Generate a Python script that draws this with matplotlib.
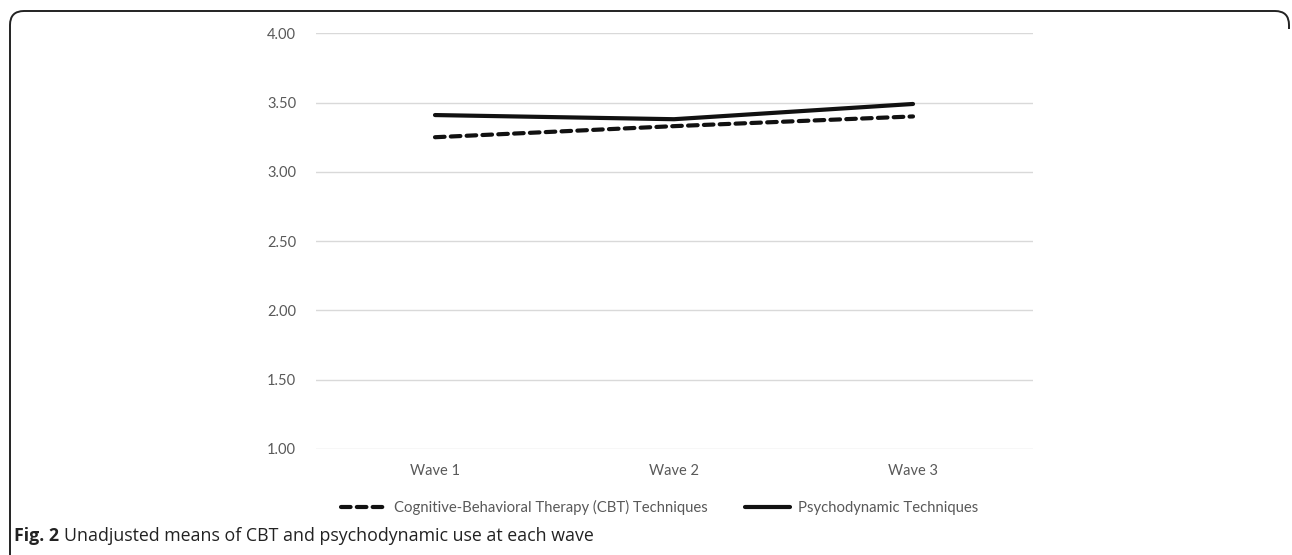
import matplotlib
matplotlib.use("Agg")
import matplotlib.pyplot as plt
from matplotlib.patches import PathPatch
from matplotlib.path import Path

waves = ["Wave 1", "Wave 2", "Wave 3"]
cbt = [3.25, 3.33, 3.40]
psychodynamic = [3.41, 3.38, 3.49]
yticks = [1.00, 1.50, 2.00, 2.50, 3.00, 3.50, 4.00]

W, H = 1292, 555
fig = plt.figure(figsize=(W / 100, H / 100), dpi=100)

# plot area (pixel positions)
left, right, top, bottom = 315.5, 1032.5, 33.3, 449
ax = fig.add_axes([left / W, (H - bottom) / H, (right - left) / W, (bottom - top) / H])

x = range(len(waves))
ax.plot(x, cbt, color="#111111", lw=3.0, ls=(0, (2.3, 1.5)),
        dash_capstyle="round", solid_capstyle="round",
        label="Cognitive-Behavioral Therapy (CBT) Techniques")
ax.plot(x, psychodynamic, color="#111111", lw=3.0, solid_capstyle="round",
        label="Psychodynamic Techniques")

ax.set_xlim(-0.5, 2.5)
ax.set_ylim(1, 4)
ax.set_yticks(yticks)
ax.set_yticklabels(["{:.2f}".format(v) for v in yticks])
ax.set_xticks(list(x))
ax.set_xticklabels(waves)
ax.tick_params(length=0, labelsize=10.5, labelcolor="#595959")
ax.tick_params(axis="y", pad=14)
ax.tick_params(axis="x", pad=11)
for lab in ax.get_xticklabels() + ax.get_yticklabels():
    lab.set_family("Lato")
ax.grid(axis="y", color="#d9d9d9", lw=1)
ax.set_axisbelow(True)
for sp in ax.spines.values():
    sp.set_visible(False)

leg = ax.legend(loc="center", bbox_to_anchor=(0.48, -0.14), ncol=2, frameon=False,
                handlelength=3.0, handletextpad=0.6, columnspacing=2.5,
                prop={"family": "Lato", "size": 10.7})
for t in leg.get_texts():
    t.set_color("#595959")

# frame: top line with rounded corners, left side running down
r = 14
x0, x1, ytop, ybot = 10, 1289, H - 11, 0
verts = [(x0, ybot), (x0, ytop - r), (x0, ytop), (x0 + r, ytop),
         (x1 - r, ytop), (x1, ytop), (x1, ytop - r), (x1, ytop - r - 4)]
codes = [Path.MOVETO, Path.LINETO, Path.CURVE3, Path.CURVE3,
         Path.LINETO, Path.CURVE3, Path.CURVE3, Path.LINETO]
frame = PathPatch(Path([(vx / W, vy / H) for vx, vy in verts], codes),
                  transform=fig.transFigure, fill=False, lw=1.4, ec="#222222")
fig.add_artist(frame)

# caption
cap_y = (H - 536) / H
t1 = fig.text(14 / W, cap_y, "Fig. 2", fontsize=12.8, fontweight="bold",
              family="Open Sans", va="center", color="#222222")
fig.canvas.draw()
bb = t1.get_window_extent()
fig.text((bb.x1 + 5) / W, cap_y, "Unadjusted means of CBT and psychodynamic use at each wave",
         fontsize=12.8, family="Open Sans", va="center", color="#222222")

fig.savefig("out.png", dpi=100)
